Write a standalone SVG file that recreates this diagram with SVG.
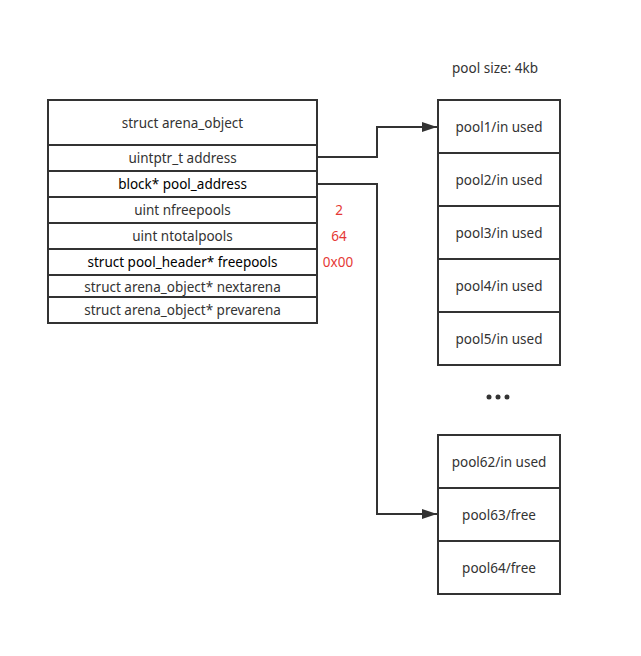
<svg xmlns="http://www.w3.org/2000/svg" width="641" height="656" viewBox="0 0 641 656">
<defs>
<style>
.box{fill:#fff;stroke:#333;stroke-width:2}
.t{font-family:"Noto Sans","Open Sans",sans-serif;font-size:13.5px;fill:#333;text-anchor:middle;dominant-baseline:central}
.k{fill:#000}
.r{fill:#e53935}
.c{fill:none;stroke:#333;stroke-width:2}
</style>
<marker id="ah" markerWidth="15" markerHeight="10" refX="15" refY="5" orient="auto" markerUnits="userSpaceOnUse">
<path d="M0,0 L15,5 L0,10 Z" fill="#333"/>
</marker>
</defs>
<rect width="641" height="656" fill="#fff"/>
<g id="arena_object">
<rect class="box" x="48" y="100" width="269" height="223"/>
<line class="c" x1="48" y1="145" x2="317" y2="145"/>
<line class="c" x1="48" y1="171" x2="317" y2="171"/>
<line class="c" x1="48" y1="197" x2="317" y2="197"/>
<line class="c" x1="48" y1="223" x2="317" y2="223"/>
<line class="c" x1="48" y1="249" x2="317" y2="249"/>
<line class="c" x1="48" y1="275" x2="317" y2="275"/>
<line class="c" x1="48" y1="297" x2="317" y2="297"/>
<text class="t" x="182.5" y="123">struct arena_object</text>
<text class="t" x="182.5" y="158">uintptr_t address</text>
<text class="t k" x="182.5" y="184">block* pool_address</text>
<text class="t" x="182.5" y="210">uint nfreepools</text>
<text class="t" x="182.5" y="236">uint ntotalpools</text>
<text class="t k" x="182.5" y="262">struct pool_header* freepools</text>
<text class="t" x="182.5" y="287">struct arena_object* nextarena</text>
<text class="t" x="182.5" y="310">struct arena_object* prevarena</text>
</g>
<g id="values">
<text class="t r" x="339" y="210">2</text>
<text class="t r" x="339" y="236">64</text>
<text class="t r" x="338" y="262">0x00</text>
</g>
<g id="pool_size_label">
<text class="t" x="495" y="68">pool size: 4kb</text>
</g>
<g id="pools_top">
<rect class="box" x="438" y="100" width="122" height="265"/>
<line class="c" x1="438" y1="153" x2="560" y2="153"/>
<line class="c" x1="438" y1="206" x2="560" y2="206"/>
<line class="c" x1="438" y1="259" x2="560" y2="259"/>
<line class="c" x1="438" y1="312" x2="560" y2="312"/>
<text class="t" x="499" y="127">pool1/in used</text>
<text class="t" x="499" y="180">pool2/in used</text>
<text class="t" x="499" y="233">pool3/in used</text>
<text class="t" x="499" y="286">pool4/in used</text>
<text class="t" x="499" y="339">pool5/in used</text>
</g>
<g id="ellipsis">
<circle cx="489" cy="397" r="2.5" fill="#333"/>
<circle cx="498" cy="397" r="2.5" fill="#333"/>
<circle cx="507" cy="397" r="2.5" fill="#333"/>
</g>
<g id="pools_bottom">
<rect class="box" x="438" y="435" width="122" height="159"/>
<line class="c" x1="438" y1="488" x2="560" y2="488"/>
<line class="c" x1="438" y1="541" x2="560" y2="541"/>
<text class="t" x="499" y="462">pool62/in used</text>
<text class="t" x="499" y="515">pool63/free</text>
<text class="t" x="499" y="568">pool64/free</text>
</g>
<g id="connectors">
<polyline class="c" points="317,157 377,157 377,127 437,127" marker-end="url(#ah)"/>
<polyline class="c" points="317,184 377,184 377,514 437,514" marker-end="url(#ah)"/>
</g>
</svg>
